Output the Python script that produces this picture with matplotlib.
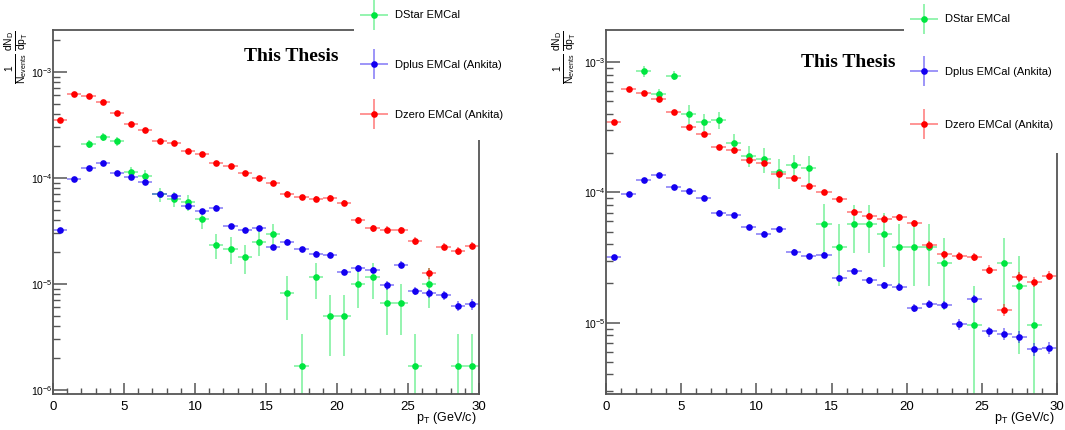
import numpy as np
import matplotlib
matplotlib.use('Agg')
import matplotlib.pyplot as plt
from matplotlib.container import ErrorbarContainer
from matplotlib.legend_handler import HandlerErrorbar
from matplotlib.patches import Rectangle
from matplotlib.ticker import LogLocator, MultipleLocator, NullFormatter

plt.rcParams['mathtext.default'] = 'regular'

# pT bins (GeV/c), width 1, from 0 to 30
bin_low = np.arange(0, 30)
bin_mid = bin_low + 0.5
nan = np.nan

# Dzero EMCal (Ankita) - same histogram in both panels
dzero = [3.47e-4, 6.18e-4, 5.84e-4, 5.19e-4, 4.12e-4, 3.18e-4, 2.80e-4, 2.24e-4, 2.12e-4, 1.78e-4,
         1.67e-4, 1.39e-4, 1.30e-4, 1.12e-4, 1.00e-4, 8.9e-5, 7.1e-5, 6.6e-5, 6.3e-5, 6.45e-5,
         5.8e-5, 3.97e-5, 3.34e-5, 3.25e-5, 3.2e-5, 2.55e-5, 1.26e-5, 2.25e-5, 2.05e-5, 2.3e-5]
dzero_rel = [0.03, 0.02, 0.02, 0.02, 0.02, 0.03, 0.03, 0.03, 0.03, 0.03,
             0.04, 0.04, 0.04, 0.04, 0.05, 0.05, 0.05, 0.05, 0.06, 0.06,
             0.06, 0.07, 0.07, 0.07, 0.07, 0.08, 0.11, 0.08, 0.09, 0.08]

# Dplus EMCal (Ankita)
dplus = [3.2e-5, 9.74e-5, 1.24e-4, 1.37e-4, 1.11e-4, 1.02e-4, 9.14e-5, 6.99e-5, 6.69e-5, 5.4e-5,
         4.82e-5, 5.22e-5, 3.5e-5, 3.23e-5, 3.33e-5, 2.21e-5, 2.5e-5, 2.12e-5, 1.93e-5, 1.87e-5,
         1.3e-5, 1.4e-5, 1.36e-5, 9.7e-6, 1.52e-5, 8.56e-6, 8.2e-6, 7.8e-6, 6.23e-6, 6.43e-6]
dplus_rel = [0.04, 0.03, 0.03, 0.03, 0.03, 0.03, 0.04, 0.04, 0.04, 0.04,
             0.05, 0.05, 0.05, 0.05, 0.05, 0.06, 0.06, 0.06, 0.06, 0.07,
             0.07, 0.07, 0.07, 0.09, 0.07, 0.09, 0.10, 0.10, 0.11, 0.11]

# DStar EMCal, left panel
dstar_left = [nan, nan, 2.08e-4, 2.43e-4, 2.21e-4, 1.14e-4, 1.05e-4, 6.99e-5, 6.36e-5, 5.92e-5,
              4.09e-5, 2.33e-5, 2.15e-5, 1.79e-5, 2.48e-5, 2.95e-5, 8.27e-6, 1.67e-6, 1.15e-5, 5.0e-6,
              5.0e-6, 9.98e-6, 1.15e-5, 6.65e-6, 6.65e-6, 1.67e-6, 9.98e-6, nan, 1.67e-6, 1.67e-6]
dstar_left_rel = [nan, nan, 0.09, 0.08, 0.09, 0.12, 0.13, 0.15, 0.16, 0.17,
                  0.20, 0.27, 0.28, 0.30, 0.26, 0.24, 0.45, 1.0, 0.38, 0.58,
                  0.58, 0.41, 0.38, 0.50, 0.50, 1.0, 0.41, nan, 1.0, 1.0]

# DStar EMCal, right panel
dstar_right = [nan, nan, 8.53e-4, 5.74e-4, 7.89e-4, 4.03e-4, 3.46e-4, 3.61e-4, 2.39e-4, 1.92e-4,
               1.81e-4, 1.43e-4, 1.63e-4, 1.54e-4, 5.73e-5, 3.84e-5, 5.73e-5, 5.73e-5, 4.8e-5, 3.84e-5,
               3.84e-5, 3.84e-5, 2.86e-5, nan, 9.6e-6, nan, 2.86e-5, 1.91e-5, 9.6e-6, nan]
dstar_right_rel = [nan, nan, 0.09, 0.09, 0.08, 0.16, 0.15, 0.15, 0.18, 0.19,
                   0.22, 0.26, 0.20, 0.24, 0.42, 0.50, 0.40, 0.40, 0.44, 0.50,
                   0.50, 0.50, 0.56, nan, 1.0, nan, 0.56, 0.70, 1.0, nan]

labels = ['DStar EMCal', 'Dplus EMCal (Ankita)', 'Dzero EMCal (Ankita)']
colors = ['#00e640', '#1400f0', '#ff0000']

W, H = 1065, 430
fig = plt.figure(figsize=(W / 100, H / 100), dpi=100)

sans = ['Liberation Sans', 'DejaVu Sans']
ylab = r'$\frac{1}{N_{events}}\,\frac{dN_{D}}{dp_{T}}$'


def px_box(x0, x1, y0, y1):
    # pixel box (top-left origin) -> figure fraction rect
    return [x0 / W, (H - y1) / H, (x1 - x0) / W, (y1 - y0) / H]


def draw_panel(ax, dstar, dstar_rel, ylim):
    handles = []
    for vals, rel, col in [(dstar, dstar_rel, colors[0]), (dplus, dplus_rel, colors[1]), (dzero, dzero_rel, colors[2])]:
        vals = np.array(vals)
        err = vals * np.array(rel)
        ecol = matplotlib.colors.to_rgba(col, 0.45)
        h = ax.errorbar(bin_mid, vals, xerr=0.5, yerr=err, fmt='o', color=col, ecolor=ecol,
                        elinewidth=1.3, markersize=4.8, capsize=0, markeredgewidth=0)
        handles.append(h)

    ax.set_yscale('log')
    ax.set_xlim(0, 30)
    ax.set_ylim(*ylim)
    ax.xaxis.set_major_locator(MultipleLocator(5))
    ax.xaxis.set_minor_locator(MultipleLocator(1))
    ax.yaxis.set_minor_locator(LogLocator(base=10, subs=np.arange(2, 10)))
    ax.yaxis.set_minor_formatter(NullFormatter())
    ax.tick_params(which='both', direction='in', top=False, right=False, color='#555555')
    ax.tick_params(axis='x', which='major', length=8, width=1.1, pad=5, labelsize=9.5)
    ax.tick_params(axis='x', which='minor', length=4, width=1.0)
    ax.tick_params(axis='y', which='major', length=10, width=1.1, pad=0.5, labelsize=7.5)
    ax.tick_params(axis='y', which='minor', length=5, width=1.0)
    for lab in ax.get_xticklabels() + ax.get_yticklabels():
        lab.set_family(sans)
    for s in ax.spines.values():
        s.set_color('#555555')
        s.set_linewidth(1.3)

    ax.text(0.995, -0.044, '$p_{T}$ (GeV/c)', transform=ax.transAxes, ha='right', va='top',
            fontsize=9, family=sans)
    return handles


ax1 = fig.add_axes(px_box(53, 479, 30, 394))
h1 = draw_panel(ax1, dstar_left, dstar_left_rel, (9.17e-7, 2.47e-3))
ax1.text(-0.085, 1.0, ylab, transform=ax1.transAxes, rotation=90, ha='center', va='top',
         fontsize=10.5, family=sans)
ax1.text(0.56, 0.926, 'This Thesis', transform=ax1.transAxes, ha='center', va='center',
         fontsize=14, fontweight='bold', family='Liberation Serif')

ax2 = fig.add_axes(px_box(606, 1057, 30, 394))
h2 = draw_panel(ax2, dstar_right, dstar_right_rel, (2.83e-6, 1.77e-3))
ax2.text(-0.09, 1.0, ylab, transform=ax2.transAxes, rotation=90, ha='center', va='top',
         fontsize=10.5, family=sans)
ax2.text(0.537, 0.912, 'This Thesis', transform=ax2.transAxes, ha='center', va='center',
         fontsize=14, fontweight='bold', family='Liberation Serif')

# white legend boxes hiding the top right of each frame
fig.add_artist(Rectangle((354 / W, (H - 140) / H), 180 / W, 140 / H, transform=fig.transFigure,
                         facecolor='white', edgecolor='none', zorder=3))
fig.add_artist(Rectangle((904 / W, (H - 153) / H), 161 / W, 153 / H, transform=fig.transFigure,
                         facecolor='white', edgecolor='none', zorder=3))

hmap = {ErrorbarContainer: HandlerErrorbar(xerr_size=1.26, yerr_size=1.35)}
leg_font = {'family': sans, 'size': 8}
fig.legend(h1, labels, loc='upper left', bbox_to_anchor=(361.8 / W, (H - 10.5) / H), frameon=False,
           handlelength=2.2, handletextpad=0.8, labelspacing=3.56, borderpad=0, borderaxespad=0,
           prop=leg_font, handler_map=hmap).set_zorder(5)
fig.legend(h2, labels, loc='upper left', bbox_to_anchor=(911.8 / W, (H - 14.5) / H), frameon=False,
           handlelength=2.2, handletextpad=0.8, labelspacing=3.83, borderpad=0, borderaxespad=0,
           prop=leg_font, handler_map=hmap).set_zorder(5)

fig.savefig('out.png', dpi=100)
